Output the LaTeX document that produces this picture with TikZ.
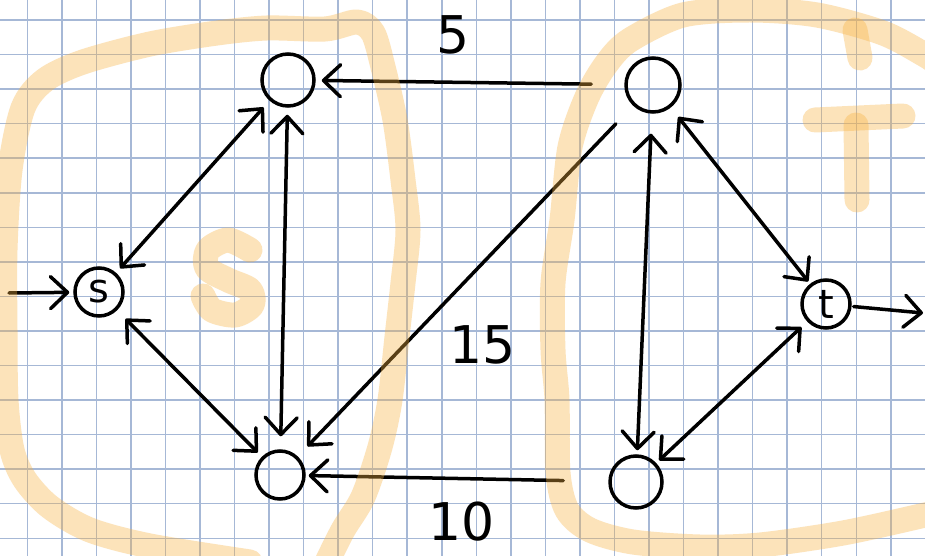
\documentclass[tikz,border=0pt]{standalone}
\usepackage{fontspec}
\newfontfamily\hand{DejaVu Sans}
\usetikzlibrary{arrows.meta}
\definecolor{gridblue}{RGB}{166,184,214}
\definecolor{hlorange}{RGB}{247,178,66}
\begin{document}
\begin{tikzpicture}[x=1pt,y=-1pt,
  gridline/.style={draw=gridblue, line width=1.5pt},
  ink/.style={line width=3.5pt, line cap=round, line join=round},
  vertex/.style={circle, draw, line width=3.5pt, inner sep=0pt, minimum size=#1,
    font=\hand\fontsize{40}{40}\selectfont},
  weight/.style={font=\hand\fontsize{52}{52}\selectfont, inner sep=0pt},
  hl/.style={draw=hlorange, draw opacity=0.36, line width=25pt, line cap=round, line join=round},
  >={Straight Barb[length=17pt,width=32pt,line cap=round,line join=round]}]

\useasboundingbox (0,0) rectangle (925,556);
\clip (0,0) rectangle (925,556);
\fill[white] (0,0) rectangle (925,556);

% squared paper
\foreach \i in {0,...,26}
  \draw[gridline] ({27.3+34.54*\i},0) -- ++(0,556);
\foreach \j in {0,...,15}
  \draw[gridline] (0,{20+34.55*\j}) -- ++(925,0);

% vertices
\node[vertex=48pt] (s) at (99,292) {s};
\node[vertex=52pt] (A) at (288,80) {};
\node[vertex=48pt] (B) at (280,475) {};
\node[vertex=54pt] (C) at (653,85) {};
\node[vertex=52pt] (D) at (636,482) {};
\node[vertex=48pt] (t) at (826,304) {t};
\coordinate (in) at (9,293);
\coordinate (out) at (923,313);

% edges
\draw[ink,->,shorten >=4pt] (in) -- (s);
\draw[ink,->,shorten <=2pt] (t) -- (out);
\draw[ink,<->,shorten <=6pt,shorten >=9pt] (s) -- (A);
\draw[ink,<->,shorten <=12pt,shorten >=6pt] (s) -- (B);
\draw[ink,<->,shorten <=7pt,shorten >=13pt] (A) -- (B);
\draw[ink,->,shorten <=33pt,shorten >=6pt] (C) -- (A);
\draw[ink,->,shorten <=25pt,shorten >=14pt] (C) -- (B);
\draw[ink,->,shorten <=45pt,shorten >=3pt] (D) -- (B);
\draw[ink,<->,shorten <=20pt,shorten >=4pt] (C) -- (D);
\draw[ink,<->,shorten <=12pt,shorten >=3pt] (C) -- (t);
\draw[ink,<->,shorten <=4pt,shorten >=8pt] (D) -- (t);

% edge weights
\node[weight] (w5) at (453,35) {5};
\node[weight] (w15) at (483,345) {15};
\node[weight] (w10) at (462,522) {10};

% highlighter marks on top
\draw[hl] plot[smooth] coordinates {(250,562) (150,546) (90,530) (50,507) (25,480)
  (12,450) (6,400) (5,330) (5,250) (10,170) (23,108) (45,80) (83,62) (150,44)
  (217,33) (267,28) (325,29) (357,22) (373,33) (383,67) (395,120) (403,180)
  (408,230) (403,283) (397,337) (390,400) (380,447) (363,497) (343,530) (327,562)};
\draw[hl] plot[smooth] coordinates {(250,250) (228,240) (208,250) (207,268) (228,280)
  (250,290) (252,305) (235,315) (212,310) (203,296)};
\draw[hl] plot[smooth] coordinates {(935,62) (925,55) (883,33) (817,15) (750,10)
  (683,15) (630,40) (607,63) (587,97) (570,147) (562,220) (553,283) (553,350)
  (557,400) (558,473) (567,510) (590,530) (633,542) (700,547) (760,545) (843,533)
  (925,515) (935,512)};
\draw[hl] (855,30) -- (860,58);
\draw[hl] (815,120) -- (903,116);
\draw[hl] (856,125) -- (857,200);
\end{tikzpicture}
\end{document}
